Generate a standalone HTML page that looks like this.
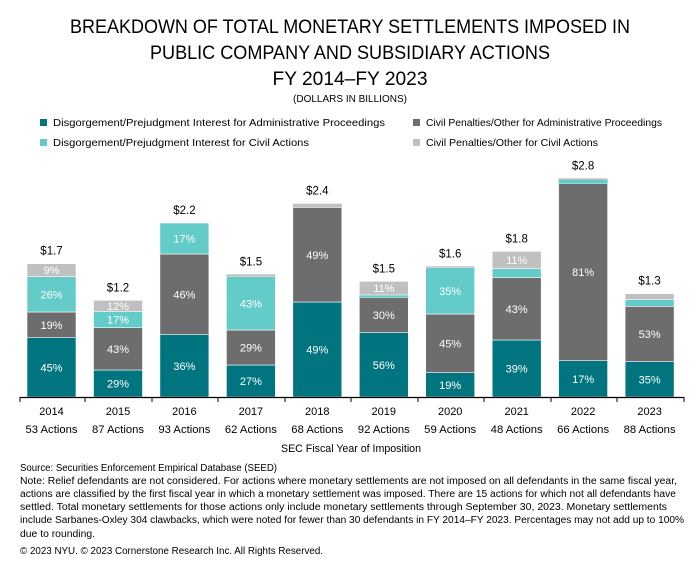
<!DOCTYPE html>
<html><head><meta charset="utf-8"><style>
body{margin:0;background:#fff;width:700px;height:570px;overflow:hidden;}
</style></head><body>
<svg width="700" height="570" xmlns="http://www.w3.org/2000/svg" font-family="Liberation Sans, sans-serif">
<g text-anchor="middle" fill="#000">
<text x="350" y="33" font-size="19" textLength="560" lengthAdjust="spacingAndGlyphs">BREAKDOWN OF TOTAL MONETARY SETTLEMENTS IMPOSED IN</text>
<text x="350" y="59" font-size="19" textLength="400" lengthAdjust="spacingAndGlyphs">PUBLIC COMPANY AND SUBSIDIARY ACTIONS</text>
<text x="350" y="85" font-size="19" textLength="155" lengthAdjust="spacingAndGlyphs">FY 2014–FY 2023</text>
<text x="350" y="102" font-size="10">(DOLLARS IN BILLIONS)</text>
</g>
<g font-size="10.5" fill="#000">
<rect x="40" y="119" width="7" height="7" fill="#00747f"/><text x="53" y="126" textLength="332" lengthAdjust="spacingAndGlyphs">Disgorgement/Prejudgment Interest for Administrative Proceedings</text>
<rect x="413" y="119" width="7" height="7" fill="#6d6d6d"/><text x="426" y="126" textLength="236" lengthAdjust="spacingAndGlyphs">Civil Penalties/Other for Administrative Proceedings</text>
<rect x="40" y="139" width="7" height="7" fill="#63cbc8"/><text x="53" y="146" textLength="256" lengthAdjust="spacingAndGlyphs">Disgorgement/Prejudgment Interest for Civil Actions</text>
<rect x="413" y="139" width="7" height="7" fill="#c0c0c0"/><text x="426" y="146" textLength="172" lengthAdjust="spacingAndGlyphs">Civil Penalties/Other for Civil Actions</text>
</g>
<g stroke="#fff" stroke-width="0.6">
<rect x="27" y="337.7" width="49" height="59.3" fill="#00747f"/><rect x="27" y="312" width="49" height="25.7" fill="#6d6d6d"/><rect x="27" y="276.7" width="49" height="35.3" fill="#63cbc8"/><rect x="27" y="263.7" width="49" height="13" fill="#c0c0c0"/>
<rect x="93.5" y="370" width="49" height="27" fill="#00747f"/><rect x="93.5" y="327.7" width="49" height="42.3" fill="#6d6d6d"/><rect x="93.5" y="311.7" width="49" height="16" fill="#63cbc8"/><rect x="93.5" y="300.3" width="49" height="11.4" fill="#c0c0c0"/>
<rect x="159.9" y="334.7" width="49" height="62.3" fill="#00747f"/><rect x="159.9" y="254" width="49" height="80.7" fill="#6d6d6d"/><rect x="159.9" y="223" width="49" height="31" fill="#63cbc8"/>
<rect x="226.4" y="365" width="49" height="32" fill="#00747f"/><rect x="226.4" y="330" width="49" height="35" fill="#6d6d6d"/><rect x="226.4" y="276.7" width="49" height="53.3" fill="#63cbc8"/><rect x="226.4" y="274.3" width="49" height="2.4" fill="#c0c0c0" stroke="none"/>
<rect x="292.8" y="302" width="49" height="95" fill="#00747f"/><rect x="292.8" y="207.7" width="49" height="94.3" fill="#6d6d6d"/><rect x="292.8" y="203.7" width="49" height="4" fill="#c0c0c0" stroke="none"/>
<rect x="359.3" y="332.7" width="49" height="64.3" fill="#00747f"/><rect x="359.3" y="297.7" width="49" height="35" fill="#6d6d6d"/><rect x="359.3" y="295" width="49" height="2.7" fill="#63cbc8" stroke="none"/><rect x="359.3" y="281.3" width="49" height="13.7" fill="#c0c0c0"/>
<rect x="425.7" y="372.7" width="49" height="24.3" fill="#00747f"/><rect x="425.7" y="314" width="49" height="58.7" fill="#6d6d6d"/><rect x="425.7" y="267.7" width="49" height="46.3" fill="#63cbc8"/><rect x="425.7" y="266.3" width="49" height="1.4" fill="#c0c0c0" stroke="none"/>
<rect x="492.2" y="340" width="49" height="57" fill="#00747f"/><rect x="492.2" y="277.7" width="49" height="62.3" fill="#6d6d6d"/><rect x="492.2" y="268.7" width="49" height="9" fill="#63cbc8"/><rect x="492.2" y="251.3" width="49" height="17.4" fill="#c0c0c0"/>
<rect x="558.6" y="360.7" width="49" height="36.3" fill="#00747f"/><rect x="558.6" y="183.7" width="49" height="177" fill="#6d6d6d"/><rect x="558.6" y="180" width="49" height="3.7" fill="#63cbc8" stroke="none"/><rect x="558.6" y="178.3" width="49" height="1.7" fill="#c0c0c0" stroke="none"/>
<rect x="625.1" y="361.7" width="49" height="35.3" fill="#00747f"/><rect x="625.1" y="306.3" width="49" height="55.4" fill="#6d6d6d"/><rect x="625.1" y="299.7" width="49" height="6.6" fill="#63cbc8"/><rect x="625.1" y="293.7" width="49" height="6" fill="#c0c0c0"/>
</g>
<g font-size="11" fill="#fff" text-anchor="middle">
<text x="51.5" y="371.4">45%</text><text x="51.5" y="328.9">19%</text><text x="51.5" y="298.4">26%</text><text x="51.5" y="274.2">9%</text>
<text x="118" y="387.5">29%</text><text x="118" y="352.9">43%</text><text x="118" y="323.7">17%</text><text x="118" y="310">12%</text>
<text x="184.4" y="369.9">36%</text><text x="184.4" y="298.4">46%</text><text x="184.4" y="242.5">17%</text>
<text x="250.9" y="385">27%</text><text x="250.9" y="351.5">29%</text><text x="250.9" y="307.4">43%</text>
<text x="317.3" y="353.5">49%</text><text x="317.3" y="258.9">49%</text>
<text x="383.8" y="368.9">56%</text><text x="383.8" y="319.2">30%</text><text x="383.8" y="292.2">11%</text>
<text x="450.2" y="388.9">19%</text><text x="450.2" y="347.4">45%</text><text x="450.2" y="294.9">35%</text>
<text x="516.7" y="372.5">39%</text><text x="516.7" y="312.9">43%</text><text x="516.7" y="264">11%</text>
<text x="583.1" y="382.9">17%</text><text x="583.1" y="276.2">81%</text>
<text x="649.6" y="383.4">35%</text><text x="649.6" y="338">53%</text>
</g>
<g font-size="11.5" fill="#000" text-anchor="middle">
<text x="51.5" y="254.7">$1.7</text><text x="118" y="291.3">$1.2</text><text x="184.4" y="214">$2.2</text><text x="250.9" y="265.3">$1.5</text><text x="317.3" y="194.7">$2.4</text><text x="383.8" y="272.3">$1.5</text><text x="450.2" y="257.3">$1.6</text><text x="516.7" y="242.3">$1.8</text><text x="583.1" y="169.3">$2.8</text><text x="649.6" y="284.7">$1.3</text>
</g>
<line x1="20" y1="397.5" x2="684" y2="397.5" stroke="#000" stroke-width="1.2"/>
<g stroke="#000">
<line x1="20" y1="397" x2="20" y2="402"/><line x1="85" y1="397" x2="85" y2="402"/><line x1="152" y1="397" x2="152" y2="402"/><line x1="218" y1="397" x2="218" y2="402"/><line x1="285" y1="397" x2="285" y2="402"/><line x1="351" y1="397" x2="351" y2="402"/><line x1="418" y1="397" x2="418" y2="402"/><line x1="484" y1="397" x2="484" y2="402"/><line x1="551" y1="397" x2="551" y2="402"/><line x1="617" y1="397" x2="617" y2="402"/><line x1="684" y1="397" x2="684" y2="402"/>
</g>
<g font-size="11" fill="#000" text-anchor="middle">
<text x="51.5" y="415">2014</text><text x="118" y="415">2015</text><text x="184.4" y="415">2016</text><text x="250.9" y="415">2017</text><text x="317.3" y="415">2018</text><text x="383.8" y="415">2019</text><text x="450.2" y="415">2020</text><text x="516.7" y="415">2021</text><text x="583.1" y="415">2022</text><text x="649.6" y="415">2023</text>
</g>
<g font-size="11" fill="#000" text-anchor="middle">
<text x="51.5" y="433" textLength="52" lengthAdjust="spacingAndGlyphs">53 Actions</text><text x="118" y="433" textLength="52" lengthAdjust="spacingAndGlyphs">87 Actions</text><text x="184.4" y="433" textLength="52" lengthAdjust="spacingAndGlyphs">93 Actions</text><text x="250.9" y="433" textLength="52" lengthAdjust="spacingAndGlyphs">62 Actions</text><text x="317.3" y="433" textLength="52" lengthAdjust="spacingAndGlyphs">68 Actions</text><text x="383.8" y="433" textLength="52" lengthAdjust="spacingAndGlyphs">92 Actions</text><text x="450.2" y="433" textLength="52" lengthAdjust="spacingAndGlyphs">59 Actions</text><text x="516.7" y="433" textLength="52" lengthAdjust="spacingAndGlyphs">48 Actions</text><text x="583.1" y="433" textLength="52" lengthAdjust="spacingAndGlyphs">66 Actions</text><text x="649.6" y="433" textLength="52" lengthAdjust="spacingAndGlyphs">88 Actions</text>
<text x="351" y="452" textLength="140" lengthAdjust="spacingAndGlyphs">SEC Fiscal Year of Imposition</text>
</g>
<g font-size="10" fill="#000">
<text x="20" y="471" textLength="257" lengthAdjust="spacingAndGlyphs">Source: Securities Enforcement Empirical Database (SEED)</text>
<text x="20" y="484" textLength="657" lengthAdjust="spacingAndGlyphs">Note: Relief defendants are not considered. For actions where monetary settlements are not imposed on all defendants in the same fiscal year,</text>
<text x="20" y="497" textLength="656" lengthAdjust="spacingAndGlyphs">actions are classified by the first fiscal year in which a monetary settlement was imposed. There are 15 actions for which not all defendants have</text>
<text x="20" y="510" textLength="647" lengthAdjust="spacingAndGlyphs">settled. Total monetary settlements for those actions only include monetary settlements through September 30, 2023. Monetary settlements</text>
<text x="20" y="523" textLength="664" lengthAdjust="spacingAndGlyphs">include Sarbanes-Oxley 304 clawbacks, which were noted for fewer than 30 defendants in FY 2014–FY 2023. Percentages may not add up to 100%</text>
<text x="20" y="537" textLength="75" lengthAdjust="spacingAndGlyphs">due to rounding.</text>
<text x="20" y="554" textLength="303" lengthAdjust="spacingAndGlyphs">© 2023 NYU. © 2023 Cornerstone Research Inc. All Rights Reserved.</text>
</g>
</svg>
</body></html>
